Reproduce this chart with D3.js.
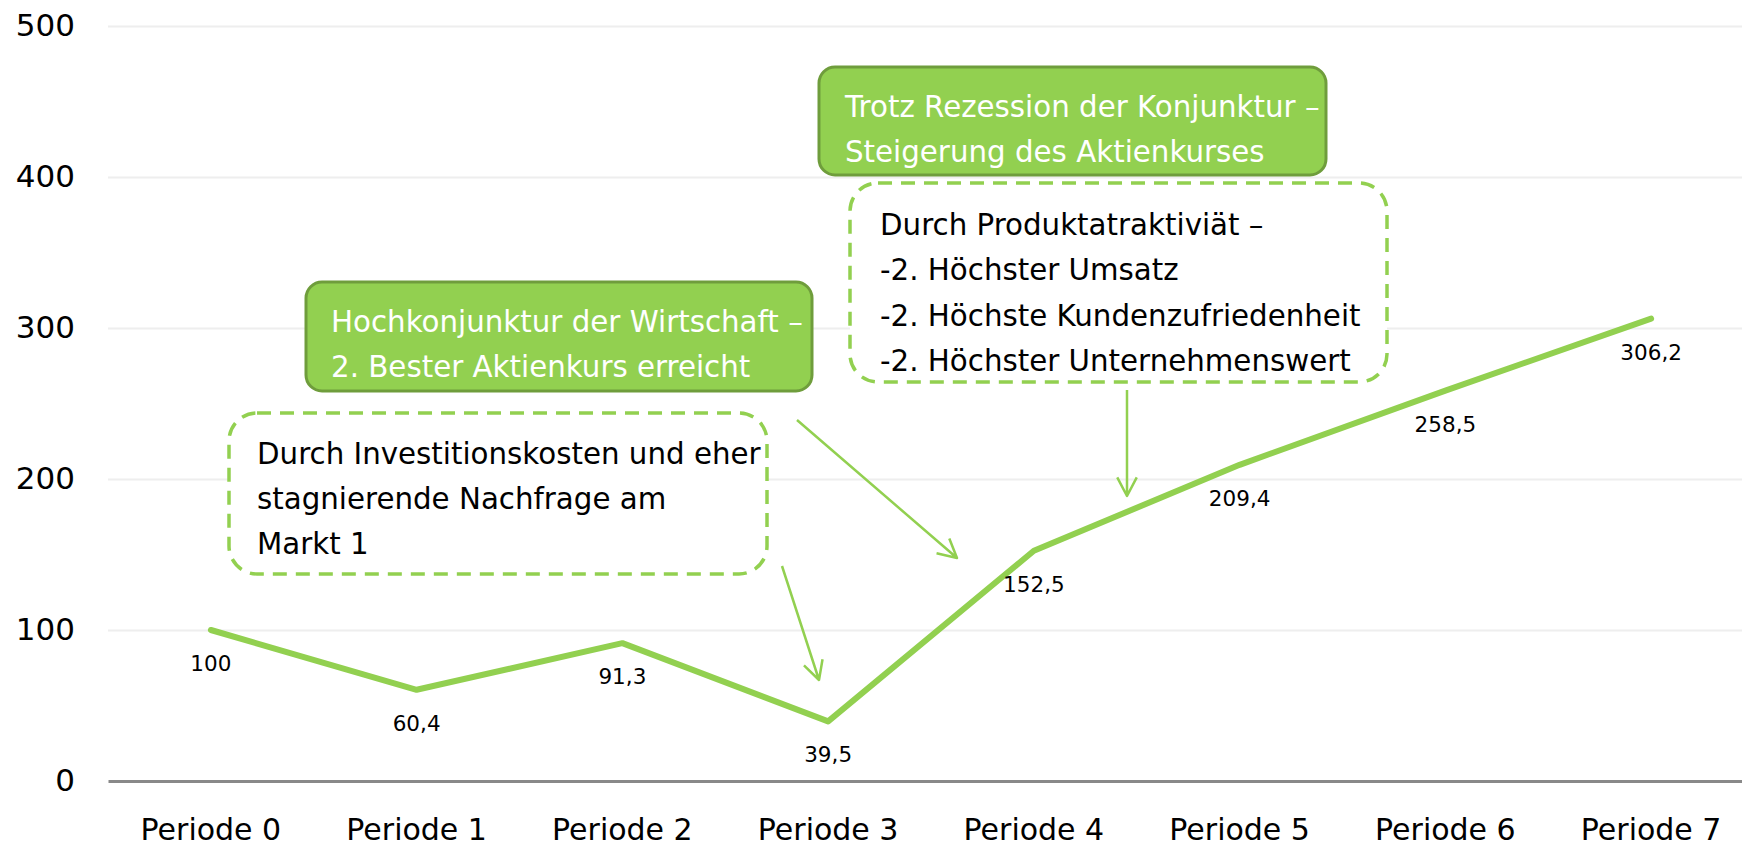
<!DOCTYPE html>
<html>
<head>
<meta charset="utf-8">
<script src="https://cdn.jsdelivr.net/npm/d3@7"></script>
<style>
    body { margin: 0; background: #fff; }
    svg { display: block; font-family: "DejaVu Sans", sans-serif; }
</style>
</head>
<body>
<div id="chart"></div>
<script>
// data
const categories = ["Periode 0", "Periode 1", "Periode 2", "Periode 3", "Periode 4", "Periode 5", "Periode 6", "Periode 7"];
const values = [100, 60.4, 91.3, 39.5, 152.5, 209.4, 258.5, 306.2];
const yTicks = [0, 100, 200, 300, 400, 500];

const notesFilled = [
    ["Hochkonjunktur der Wirtschaft –", "2. Bester Aktienkurs erreicht"],
    ["Trotz Rezession der Konjunktur –", "Steigerung des Aktienkurses"]
];
const notesDashed = [
    ["Durch Investitionskosten und eher", "stagnierende Nachfrage am", "Markt 1"],
    ["Durch Produktatraktiviät –", "-2. Höchster Umsatz", "-2. Höchste Kundenzufriedenheit", "-2. Höchster Unternehmenswert"]
];

const W = 1742, H = 848;
const green = "#92d050";
const greenDark = "#6f9d3c";
const fmt = v => d3.format("~f")(v).replace(".", ",");

const svg = d3.select("#chart").append("svg")
    .attr("width", W)
    .attr("height", H);

const x = d3.scaleBand()
    .domain(categories)
    .range([108, 1754]);

const y = d3.scaleLinear()
    .domain([0, 500])
    .range([781, 26]);

// gridlines
svg.append("g")
    .attr("transform", "translate(108,0)")
    .call(d3.axisLeft(y).tickValues(yTicks.slice(1)).tickSize(-(W - 108)).tickFormat(""))
    .call(g => g.select(".domain").remove())
    .call(g => g.selectAll("line").attr("stroke", "#eeeeee").attr("stroke-width", 2));

// y labels
svg.append("g")
    .attr("transform", "translate(108,0)")
    .call(d3.axisLeft(y).tickValues(yTicks).tickSize(0).tickPadding(33))
    .call(g => g.select(".domain").remove())
    .call(g => g.selectAll("text")
        .attr("font-family", "DejaVu Sans")
        .attr("font-size", 31)
        .attr("fill", "#000"));

// x axis
svg.append("g")
    .attr("transform", `translate(0,${ y(0) })`)
    .call(d3.axisBottom(x).tickSize(0).tickPadding(38))
    .call(g => g.select(".domain").attr("stroke", "#898989").attr("stroke-width", 3))
    .call(g => g.selectAll("text")
        .attr("font-family", "DejaVu Sans")
        .attr("font-size", 30)
        .attr("fill", "#000"));

// line
const line = d3.line()
    .x((d, i) => x(categories[i]) + x.bandwidth() / 2)
    .y(d => y(d));

svg.append("path")
    .datum(values)
    .attr("d", line)
    .attr("fill", "none")
    .attr("stroke", green)
    .attr("stroke-width", 6)
    .attr("stroke-linejoin", "round")
    .attr("stroke-linecap", "round");

svg.append("g")
    .selectAll("text")
    .data(values)
    .enter()
    .append("text")
        .attr("x", (d, i) => x(categories[i]) + x.bandwidth() / 2)
        .attr("y", d => y(d) + 41)
        .attr("text-anchor", "middle")
        .attr("font-size", 21.5)
        .attr("fill", "#000")
        .text(d => fmt(d));

// annotation boxes
function addBox(box, lines, filled) {
    let g = svg.append("g");
    g.append("rect")
        .attr("x", box.x)
        .attr("y", box.y)
        .attr("width", box.w)
        .attr("height", box.h)
        .attr("rx", box.r)
        .attr("fill", filled ? green : "#fff")
        .attr("stroke", filled ? greenDark : green)
        .attr("stroke-width", filled ? 3 : 3.5)
        .attr("stroke-dasharray", filled ? null : "14 9");
    g.selectAll("text")
        .data(lines)
        .enter()
        .append("text")
            .attr("x", box.tx)
            .attr("y", (d, i) => box.ty + i * box.lh)
            .attr("font-size", 29.3)
            .attr("fill", filled ? "#fff" : "#000")
            .text(d => d);
}

addBox({ x: 229, y: 413, w: 538, h: 161, r: 28, tx: 257, ty: 464, lh: 45 }, notesDashed[0], false);
addBox({ x: 850, y: 183, w: 537, h: 199, r: 28, tx: 880, ty: 235, lh: 45.3 }, notesDashed[1], false);
addBox({ x: 306, y: 282, w: 506, h: 109, r: 16, tx: 331, ty: 332, lh: 45 }, notesFilled[0], true);
addBox({ x: 819, y: 67, w: 507, h: 108, r: 16, tx: 845, ty: 117, lh: 45 }, notesFilled[1], true);

// arrows
function addArrow(x1, y1, x2, y2) {
    let a = Math.atan2(y2 - y1, x2 - x1);
    let len = 21, spread = Math.PI / 6.5;
    let p1 = [x2 - len * Math.cos(a - spread), y2 - len * Math.sin(a - spread)];
    let p2 = [x2 - len * Math.cos(a + spread), y2 - len * Math.sin(a + spread)];
    svg.append("path")
        .attr("d", `M${ x1 },${ y1 }L${ x2 },${ y2 }M${ p1 }L${ x2 },${ y2 }L${ p2 }`)
        .attr("fill", "none")
        .attr("stroke", green)
        .attr("stroke-width", 2.5)
        .attr("stroke-linejoin", "round");
}

addArrow(782, 566, 819, 680);
addArrow(797, 420, 957, 558);
addArrow(1127, 390, 1127, 496);
</script>
</body>
</html>
